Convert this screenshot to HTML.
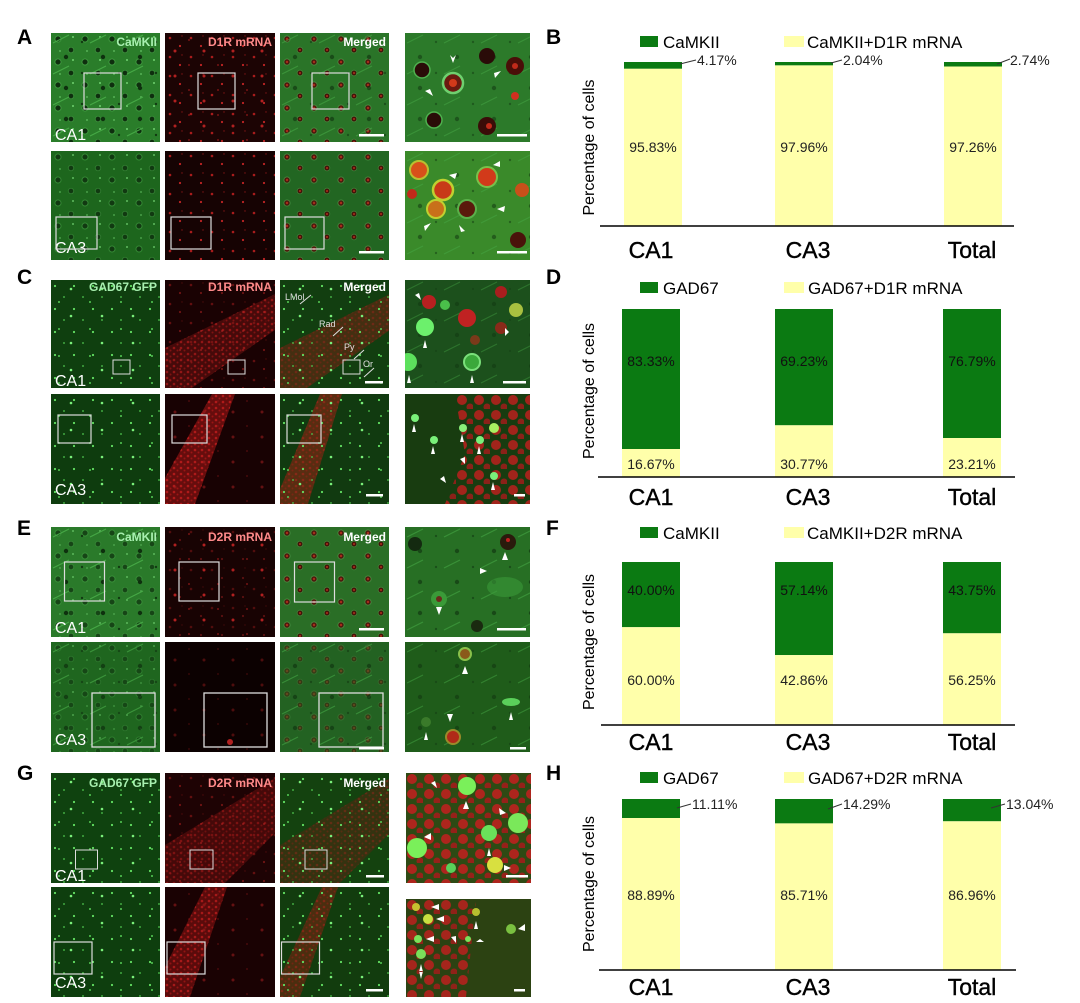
<!DOCTYPE html>
<html><head><meta charset="utf-8"><style>
html,body{margin:0;padding:0;background:#fff;}
svg{display:block;font-family:"Liberation Sans",Arial,sans-serif;}
</style></head><body>
<svg width="1080" height="1003" viewBox="0 0 1080 1003" xmlns="http://www.w3.org/2000/svg">
<defs>
<pattern id="camk" patternUnits="userSpaceOnUse" width="27" height="23">
<circle cx="7" cy="6" r="3" fill="#0e2e0e" stroke="#4fb84f" stroke-width="1" stroke-opacity=".6"/>
<circle cx="20" cy="17" r="2.7" fill="#0e2e0e" stroke="#4aa84a" stroke-width="0.9" stroke-opacity=".55"/>
<circle cx="22" cy="4" r="1" fill="#6fd06f"/>
<circle cx="9" cy="18" r="0.9" fill="#62c062"/>
</pattern>
<pattern id="camkb" patternUnits="userSpaceOnUse" width="37" height="31">
<circle cx="15" cy="24" r="2.2" fill="#0e300e"/>
<path d="M2 10 L18 2" stroke="#45a845" stroke-width="1"/>
<circle cx="31" cy="9" r="1.2" fill="#123a12"/>
</pattern>
<pattern id="mrg" patternUnits="userSpaceOnUse" width="27" height="23">
<circle cx="7" cy="6" r="3.1" fill="#4a1a0c" stroke="#5a5" stroke-width="0.9" stroke-opacity=".6"/>
<circle cx="7" cy="6" r="1.2" fill="#a82a1a"/>
<circle cx="20" cy="17" r="2.8" fill="#401408" stroke="#5a5" stroke-width="0.8" stroke-opacity=".5"/>
<circle cx="20" cy="17" r="1.1" fill="#a02818"/>
</pattern>
<pattern id="rdots" patternUnits="userSpaceOnUse" width="21" height="19">
<circle cx="5" cy="5" r="1.3" fill="#a81c1c"/>
<circle cx="15" cy="13" r="1.1" fill="#c02424"/>
<circle cx="17" cy="3" r="0.7" fill="#801414"/>
</pattern>
<pattern id="rdots2" patternUnits="userSpaceOnUse" width="29" height="25">
<circle cx="10" cy="18" r="1.5" fill="#b02020"/>
<circle cx="24" cy="7" r="0.9" fill="#901818"/>
</pattern>
<pattern id="gdots" patternUnits="userSpaceOnUse" width="19" height="23">
<circle cx="4" cy="6" r="1.1" fill="#62e062"/>
<circle cx="13" cy="17" r="0.9" fill="#50c850"/>
</pattern>
<pattern id="gdots2" patternUnits="userSpaceOnUse" width="31" height="27">
<circle cx="20" cy="9" r="1.3" fill="#7af07a"/>
<circle cx="8" cy="22" r="1" fill="#5c5"/>
</pattern>
<pattern id="rdense" patternUnits="userSpaceOnUse" width="7" height="6">
<circle cx="2" cy="2" r="1.3" fill="#d02020"/>
<circle cx="5.5" cy="4.5" r="1" fill="#b01818"/>
</pattern>
<pattern id="redblobs" patternUnits="userSpaceOnUse" width="17" height="15">
<circle cx="6" cy="6" r="5" fill="#c41e1e"/>
<circle cx="14" cy="13" r="3.5" fill="#a81a1a"/>
</pattern>
</defs>

<!-- ============ PANEL A ============ -->
<text x="17" y="44" font-size="21" font-weight="bold" fill="#000">A</text>
<svg x="51" y="33" width="109" height="109"><rect width="100%" height="100%" fill="#2a7d2a"/><rect width="100%" height="100%" fill="url(#camk)"/><rect width="100%" height="100%" fill="url(#camkb)"/>
<text x="106" y="13" text-anchor="end" font-size="12" font-weight="bold" fill="#a8f0b0">CaMKII</text>
<text x="4" y="107" font-size="16" fill="#fff">CA1</text>
<rect x="33" y="40" width="37" height="36" fill="none" stroke="#ddd" stroke-width="1.2"/></svg>
<svg x="165" y="33" width="110" height="109"><rect width="100%" height="100%" fill="#1c0404"/><rect width="100%" height="100%" fill="url(#rdots)"/><rect width="100%" height="100%" fill="url(#rdots2)"/>
<text x="107" y="13" text-anchor="end" font-size="12" font-weight="bold" fill="#ff8a8a">D1R mRNA</text>
<rect x="33" y="40" width="37" height="36" fill="none" stroke="#ddd" stroke-width="1.2"/></svg>
<svg x="280" y="33" width="109" height="109"><rect width="100%" height="100%" fill="#2a7428"/><rect width="100%" height="100%" fill="url(#mrg)"/><rect width="100%" height="100%" fill="url(#camkb)" opacity=".6"/>
<text x="106" y="13" text-anchor="end" font-size="12" font-weight="bold" fill="#fff">Merged</text>
<rect x="32" y="40" width="37" height="36" fill="none" stroke="#ddd" stroke-width="1.2"/>
<rect x="79" y="101" width="25" height="2.5" fill="#fff"/></svg>
<svg x="405" y="33" width="125" height="109"><rect width="100%" height="100%" fill="#2c7a2a"/><rect width="100%" height="100%" fill="url(#camkb)" opacity=".5"/>
<circle cx="17" cy="37" r="8" fill="#2a0c08" stroke="#4fb04f" stroke-width="1.5"/>
<circle cx="48" cy="50" r="10" fill="#6a1a10" stroke="#6fd06f" stroke-width="2.5"/><circle cx="48" cy="50" r="4" fill="#d23a1a"/>
<circle cx="29" cy="87" r="8" fill="#2a0c08" stroke="#4fb04f" stroke-width="1.5"/>
<circle cx="82" cy="23" r="8" fill="#2a0c08"/>
<circle cx="110" cy="33" r="9" fill="#4a0e08"/><circle cx="110" cy="33" r="3" fill="#c02a1a"/>
<circle cx="82" cy="93" r="9" fill="#3a0c08"/><circle cx="84" cy="93" r="3" fill="#c02a1a"/>
<circle cx="110" cy="63" r="4" fill="#d03020"/>
<path d="M45 22 l3 8 l3 -8 l-3 3z M20 58 l8 5 l-3 -7z M90 45 l6 -7 l-7 2z" fill="#fff"/>
<rect x="92" y="101" width="30" height="2.5" fill="#fff"/></svg>

<svg x="51" y="151" width="109" height="109"><rect width="100%" height="100%" fill="#1d661d"/><rect width="100%" height="100%" fill="url(#camk)" opacity=".8"/>
<text x="4" y="102" font-size="16" fill="#fff">CA3</text>
<rect x="5" y="66" width="41" height="32" fill="none" stroke="#ddd" stroke-width="1.2"/></svg>
<svg x="165" y="151" width="110" height="109"><rect width="100%" height="100%" fill="#160303"/><rect width="100%" height="100%" fill="url(#rdots)"/>
<rect x="6" y="66" width="40" height="32" fill="none" stroke="#ddd" stroke-width="1.2"/></svg>
<svg x="280" y="151" width="109" height="109"><rect width="100%" height="100%" fill="#226622"/><rect width="100%" height="100%" fill="url(#mrg)"/>
<rect x="5" y="66" width="39" height="32" fill="none" stroke="#ddd" stroke-width="1.2"/>
<rect x="79" y="100" width="25" height="2.5" fill="#fff"/></svg>
<svg x="405" y="151" width="125" height="109"><rect width="100%" height="100%" fill="#3a8a2a"/><rect width="100%" height="100%" fill="url(#camkb)" opacity=".5"/>
<circle cx="14" cy="19" r="9" fill="#d8501a" stroke="#b8c030" stroke-width="2"/>
<circle cx="38" cy="39" r="10" fill="#c83a18" stroke="#c0d030" stroke-width="2.5"/>
<circle cx="82" cy="26" r="10" fill="#d23a1a" stroke="#7ac04a" stroke-width="2"/>
<circle cx="31" cy="58" r="9" fill="#c8701a" stroke="#c0d030" stroke-width="2"/>
<circle cx="62" cy="58" r="9" fill="#5a1a0c" stroke="#5ab04a" stroke-width="2"/>
<circle cx="117" cy="39" r="7" fill="#c8501a"/>
<circle cx="113" cy="89" r="8" fill="#4a120a"/>
<circle cx="7" cy="43" r="5" fill="#c02a1a"/>
<path d="M52 22 l-8 2 l6 4z M95 10 l-7 4 l7 2z M20 80 l6 -8 l-7 3z M60 80 l-6 -6 l2 7z M100 55 l-8 3 l7 3z" fill="#fff"/>
<rect x="92" y="100" width="30" height="2.5" fill="#fff"/></svg>

<!-- ============ PANEL C ============ -->
<text x="17" y="284" font-size="21" font-weight="bold" fill="#000">C</text>
<svg x="51" y="280" width="109" height="108"><rect width="100%" height="100%" fill="#0f3f0f"/><rect width="100%" height="100%" fill="url(#gdots)"/><rect width="100%" height="100%" fill="url(#gdots2)"/>
<text x="106" y="11" text-anchor="end" font-size="12" font-weight="bold" fill="#a8f0b0">GAD67 GFP</text>
<text x="4" y="106" font-size="16" fill="#fff">CA1</text>
<rect x="62" y="80" width="17" height="14" fill="none" stroke="#ddd" stroke-width="1"/></svg>
<svg x="165" y="280" width="110" height="108"><rect width="100%" height="100%" fill="#1a0203"/>
<polygon points="0,68 106,16 110,14 110,50 27,108 0,108" fill="#5a0e0e" opacity=".7"/>
<polygon points="0,68 106,16 110,14 110,50 27,108 0,108" fill="url(#rdense)" opacity=".55"/>
<rect width="100%" height="100%" fill="url(#rdots)" opacity=".5"/>
<text x="107" y="11" text-anchor="end" font-size="12" font-weight="bold" fill="#ff8a8a">D1R mRNA</text>
<rect x="63" y="80" width="17" height="14" fill="none" stroke="#ddd" stroke-width="1"/></svg>
<svg x="280" y="280" width="109" height="108"><rect width="100%" height="100%" fill="#123e10"/>
<polygon points="0,68 106,16 110,14 110,50 27,108 0,108" fill="#5a2a12" opacity=".7"/>
<polygon points="0,68 106,16 110,14 110,50 27,108 0,108" fill="url(#rdense)" opacity=".3"/>
<rect width="100%" height="100%" fill="url(#gdots)"/><rect width="100%" height="100%" fill="url(#gdots2)"/>
<text x="106" y="11" text-anchor="end" font-size="12" font-weight="bold" fill="#fff">Merged</text>
<text x="5" y="20" font-size="9" fill="#e0e0e0">LMol</text>
<line x1="20" y1="24" x2="31" y2="15" stroke="#e0e0e0" stroke-width="1"/>
<text x="39" y="47" font-size="9" fill="#e0e0e0">Rad</text>
<line x1="53" y1="56" x2="63" y2="47" stroke="#e0e0e0" stroke-width="1"/>
<text x="64" y="70" font-size="9" fill="#e0e0e0">Py</text>
<line x1="74" y1="79" x2="84" y2="70" stroke="#e0e0e0" stroke-width="1"/>
<text x="83" y="87" font-size="9" fill="#e0e0e0">Or</text>
<line x1="84" y1="97" x2="94" y2="88" stroke="#e0e0e0" stroke-width="1"/>
<rect x="63" y="80" width="17" height="14" fill="none" stroke="#ddd" stroke-width="1"/>
<rect x="85" y="101" width="18" height="2.5" fill="#fff"/></svg>
<svg x="405" y="280" width="125" height="108"><rect width="100%" height="100%" fill="#1c501c"/><rect width="100%" height="100%" fill="url(#camkb)" opacity=".4"/>
<circle cx="24" cy="22" r="7" fill="#b82020"/>
<circle cx="62" cy="38" r="9" fill="#c02222"/>
<circle cx="96" cy="12" r="6" fill="#a81e1e"/>
<circle cx="96" cy="48" r="6" fill="#8a2a1a"/>
<circle cx="70" cy="60" r="5" fill="#7a3a1a"/>
<circle cx="20" cy="47" r="9" fill="#6cf06c"/>
<circle cx="3" cy="82" r="9" fill="#5ce05c"/>
<circle cx="67" cy="82" r="8" fill="#3aa83a" stroke="#7ae07a" stroke-width="2"/>
<circle cx="111" cy="30" r="7" fill="#a8c040"/>
<circle cx="40" cy="25" r="5" fill="#4ac04a"/>
<path d="M20 60 l-2 8 l4 0z M67 95 l-2 8 l4 0z M4 95 l-2 8 l4 0z M100 48 l0 8 l4 -4z M10 15 l6 5 l-2 -7z" fill="#fff"/>
<rect x="98" y="101" width="23" height="2.5" fill="#fff"/></svg>

<svg x="51" y="394" width="109" height="110"><rect width="100%" height="100%" fill="#0e3c0e"/><rect width="100%" height="100%" fill="url(#gdots)"/><rect width="100%" height="100%" fill="url(#gdots2)"/>
<text x="4" y="101" font-size="16" fill="#fff">CA3</text>
<rect x="7" y="21" width="33" height="28" fill="none" stroke="#ddd" stroke-width="1.2"/></svg>
<svg x="165" y="394" width="110" height="110"><rect width="100%" height="100%" fill="#180203"/>
<polygon points="47,0 70,0 30,110 0,110 0,84" fill="#7a1010" opacity=".8"/>
<polygon points="47,0 70,0 30,110 0,110 0,84" fill="url(#rdense)" opacity=".7"/>
<rect width="100%" height="100%" fill="url(#rdots2)" opacity=".5"/>
<rect x="7" y="21" width="35" height="28" fill="none" stroke="#ddd" stroke-width="1.2"/></svg>
<svg x="280" y="394" width="109" height="110"><rect width="100%" height="100%" fill="#113a10"/>
<polygon points="40,0 62,0 28,110 0,110 0,95" fill="#6a2a12" opacity=".8"/>
<polygon points="40,0 62,0 28,110 0,110 0,95" fill="url(#rdense)" opacity=".4"/>
<rect width="100%" height="100%" fill="url(#gdots)"/><rect width="100%" height="100%" fill="url(#gdots2)"/>
<rect x="7" y="21" width="34" height="28" fill="none" stroke="#ddd" stroke-width="1.2"/>
<rect x="86" y="100" width="17" height="2.5" fill="#fff"/></svg>
<svg x="405" y="394" width="125" height="110"><rect width="100%" height="100%" fill="#183c10"/>
<polygon points="50,0 125,0 125,110 40,110 60,60" fill="url(#redblobs)" opacity=".8"/>
<circle cx="10" cy="24" r="4" fill="#7af07a"/>
<circle cx="29" cy="46" r="4" fill="#7af07a"/>
<circle cx="58" cy="34" r="4" fill="#8af07a"/>
<circle cx="75" cy="46" r="4" fill="#7af07a"/>
<circle cx="89" cy="34" r="5" fill="#a8f060"/>
<circle cx="89" cy="82" r="4" fill="#7af07a"/>
<path d="M9 30 l-2 8 l4 0z M28 52 l-2 8 l4 0z M57 40 l-2 8 l4 0z M74 52 l-2 8 l4 0z M88 88 l-2 8 l4 0z M55 65 l5 5 l0 -7z M35 85 l6 4 l-2 -7z" fill="#fff"/>
<rect x="109" y="100" width="11" height="2.5" fill="#fff"/></svg>

<!-- ============ PANEL E ============ -->
<text x="17" y="535" font-size="21" font-weight="bold" fill="#000">E</text>
<svg x="51" y="527" width="109" height="110"><rect width="100%" height="100%" fill="#2a7a2a"/><rect width="100%" height="100%" fill="url(#camk)" opacity=".7"/><rect width="100%" height="100%" fill="url(#camkb)"/>
<text x="106" y="14" text-anchor="end" font-size="12" font-weight="bold" fill="#a8f0b0">CaMKII</text>
<text x="4" y="106" font-size="16" fill="#fff">CA1</text>
<rect x="13.5" y="35" width="40" height="39" fill="none" stroke="#ddd" stroke-width="1.2"/></svg>
<svg x="165" y="527" width="110" height="110"><rect width="100%" height="100%" fill="#180303"/><rect width="100%" height="100%" fill="url(#rdots2)"/><rect width="100%" height="100%" fill="url(#rdots)" opacity=".4"/>
<text x="107" y="14" text-anchor="end" font-size="12" font-weight="bold" fill="#ff8a8a">D2R mRNA</text>
<rect x="14" y="35" width="40" height="39" fill="none" stroke="#ddd" stroke-width="1.2"/></svg>
<svg x="280" y="527" width="109" height="110"><rect width="100%" height="100%" fill="#2a6e26"/><rect width="100%" height="100%" fill="url(#mrg)"/>
<text x="106" y="14" text-anchor="end" font-size="12" font-weight="bold" fill="#fff">Merged</text>
<rect x="14.5" y="35" width="40" height="40" fill="none" stroke="#ddd" stroke-width="1.2"/>
<rect x="79" y="101" width="25" height="2.5" fill="#fff"/></svg>
<svg x="405" y="527" width="125" height="110"><rect width="100%" height="100%" fill="#276f24"/><rect width="100%" height="100%" fill="url(#camkb)" opacity=".6"/>
<circle cx="10" cy="17" r="7" fill="#142a10"/>
<circle cx="103" cy="15" r="8" fill="#2a1a0c"/><circle cx="103" cy="13" r="2" fill="#c02020"/>
<circle cx="34" cy="72" r="8" fill="#3a9a38"/><circle cx="34" cy="72" r="3" fill="#6a2a1a"/>
<circle cx="72" cy="99" r="6" fill="#1a2a10"/>
<ellipse cx="100" cy="60" rx="18" ry="10" fill="#3a9a38" opacity=".6"/>
<path d="M100 25 l-3 8 l6 0z M34 88 l-3 -8 l6 0z M75 41 l7 3 l-7 3z" fill="#fff"/>
<rect x="92" y="101" width="29" height="2.5" fill="#fff"/></svg>

<svg x="51" y="642" width="109" height="110"><rect width="100%" height="100%" fill="#1f661f"/><rect width="100%" height="100%" fill="url(#camk)" opacity=".55"/><rect width="100%" height="100%" fill="url(#camkb)" opacity=".7"/>
<text x="4" y="103" font-size="16" fill="#fff">CA3</text>
<rect x="41" y="51" width="63" height="54" fill="none" stroke="#ddd" stroke-width="1.3"/></svg>
<svg x="165" y="642" width="110" height="110"><rect width="100%" height="100%" fill="#0c0101"/><rect width="100%" height="100%" fill="url(#rdots2)" opacity=".4"/>
<circle cx="65" cy="100" r="3" fill="#b02020"/>
<rect x="39" y="51" width="63" height="54" fill="none" stroke="#ddd" stroke-width="1.3"/></svg>
<svg x="280" y="642" width="109" height="110"><rect width="100%" height="100%" fill="#236222"/><rect width="100%" height="100%" fill="url(#mrg)" opacity=".5"/><rect width="100%" height="100%" fill="url(#camkb)" opacity=".6"/>
<rect x="39" y="51" width="64" height="54" fill="none" stroke="#ddd" stroke-width="1.3"/>
<rect x="79" y="105" width="25" height="2.5" fill="#fff"/></svg>
<svg x="405" y="642" width="125" height="110"><rect width="100%" height="100%" fill="#1f5c1a"/><rect width="100%" height="100%" fill="url(#camkb)" opacity=".5"/>
<circle cx="60" cy="12" r="6" fill="#8a5a1a" stroke="#8ac04a" stroke-width="2"/>
<circle cx="48" cy="95" r="7" fill="#b02a18" stroke="#9a8a2a" stroke-width="2"/>
<ellipse cx="106" cy="60" rx="9" ry="4" fill="#5ad05a"/>
<circle cx="21" cy="80" r="5" fill="#3a7a2a"/>
<path d="M60 24 l-3 8 l6 0z M45 80 l-3 -8 l6 0z M21 90 l-2 8 l4 0z M106 70 l-2 8 l4 0z" fill="#fff"/>
<rect x="105" y="105" width="16" height="2.5" fill="#fff"/></svg>

<!-- ============ PANEL G ============ -->
<text x="17" y="780" font-size="21" font-weight="bold" fill="#000">G</text>
<svg x="51" y="773" width="109" height="110"><rect width="100%" height="100%" fill="#0f420f"/><rect width="100%" height="100%" fill="url(#gdots)"/><rect width="100%" height="100%" fill="url(#gdots2)"/>
<text x="106" y="14" text-anchor="end" font-size="12" font-weight="bold" fill="#a8f0b0">GAD67 GFP</text>
<text x="4" y="108" font-size="16" fill="#fff">CA1</text>
<rect x="24.5" y="77" width="22" height="19" fill="none" stroke="#ddd" stroke-width="1"/></svg>
<svg x="165" y="773" width="110" height="110"><rect width="100%" height="100%" fill="#1e0304"/>
<polygon points="0,72 110,5 110,60 60,110 0,110" fill="#5a0c0c" opacity=".65"/>
<polygon points="0,72 110,5 110,60 60,110 0,110" fill="url(#rdense)" opacity=".4"/>
<rect width="100%" height="100%" fill="url(#rdots)" opacity=".5"/>
<text x="107" y="14" text-anchor="end" font-size="12" font-weight="bold" fill="#ff8a8a">D2R mRNA</text>
<rect x="25" y="77" width="23" height="19" fill="none" stroke="#ddd" stroke-width="1"/></svg>
<svg x="280" y="773" width="109" height="110"><rect width="100%" height="100%" fill="#14420f"/>
<polygon points="0,72 110,5 110,60 60,110 0,110" fill="#4a2a10" opacity=".6"/>
<polygon points="0,72 110,5 110,60 60,110 0,110" fill="url(#rdense)" opacity=".3"/>
<rect width="100%" height="100%" fill="url(#gdots)"/><rect width="100%" height="100%" fill="url(#gdots2)"/>
<text x="106" y="14" text-anchor="end" font-size="12" font-weight="bold" fill="#fff">Merged</text>
<rect x="25" y="77" width="22" height="19" fill="none" stroke="#ddd" stroke-width="1"/>
<rect x="86" y="102" width="18" height="2.5" fill="#fff"/></svg>
<svg x="406" y="773" width="125" height="110"><rect width="100%" height="100%" fill="#2e4a14"/>
<rect width="100%" height="100%" fill="url(#redblobs)" opacity=".85"/>
<circle cx="61" cy="13" r="9" fill="#7af05a"/>
<circle cx="11" cy="75" r="10" fill="#7af05a"/>
<circle cx="83" cy="60" r="8" fill="#6ae05a"/>
<circle cx="112" cy="50" r="10" fill="#7ae85a"/>
<circle cx="89" cy="92" r="8" fill="#d8e040"/>
<circle cx="45" cy="95" r="5" fill="#5ad05a"/>
<path d="M60 28 l-3 8 l6 0z M25 60 l-7 4 l7 3z M100 40 l-7 -5 l1 7z M83 75 l-2 8 l4 0z M105 95 l-7 -3 l0 6z M25 10 l6 5 l-2 -7z" fill="#fff"/>
<rect x="100" y="102" width="22" height="2.5" fill="#fff"/></svg>

<svg x="51" y="887" width="109" height="110"><rect width="100%" height="100%" fill="#0e3e0e"/><rect width="100%" height="100%" fill="url(#gdots)"/><rect width="100%" height="100%" fill="url(#gdots2)"/>
<text x="4" y="101" font-size="16" fill="#fff">CA3</text>
<rect x="3" y="55" width="38" height="32" fill="none" stroke="#ddd" stroke-width="1.2"/></svg>
<svg x="165" y="887" width="110" height="110"><rect width="100%" height="100%" fill="#1a0203"/>
<polygon points="40,0 62,0 25,110 0,110 0,80" fill="#6a0e0e" opacity=".8"/>
<polygon points="40,0 62,0 25,110 0,110 0,80" fill="url(#rdense)" opacity=".65"/>
<rect width="100%" height="100%" fill="url(#rdots2)" opacity=".5"/>
<rect x="2" y="55" width="38" height="32" fill="none" stroke="#ddd" stroke-width="1.2"/></svg>
<svg x="280" y="887" width="109" height="110"><rect width="100%" height="100%" fill="#123c0e"/>
<polygon points="42,0 58,0 20,110 0,110 0,90" fill="#5a2a10" opacity=".8"/>
<polygon points="42,0 58,0 20,110 0,110 0,90" fill="url(#rdense)" opacity=".4"/>
<rect width="100%" height="100%" fill="url(#gdots)"/><rect width="100%" height="100%" fill="url(#gdots2)"/>
<rect x="1.5" y="55" width="38" height="32" fill="none" stroke="#ddd" stroke-width="1.2"/>
<rect x="86" y="102" width="17" height="2.5" fill="#fff"/></svg>
<svg x="406" y="899" width="125" height="98"><rect width="100%" height="100%" fill="#2c4212"/>
<polygon points="0,0 70,0 60,98 0,98" fill="url(#redblobs)" opacity=".8"/>
<circle cx="10" cy="8" r="4" fill="#c8c030"/>
<circle cx="22" cy="20" r="5" fill="#c8e040"/>
<circle cx="12" cy="40" r="4" fill="#7ae05a"/>
<circle cx="15" cy="55" r="5" fill="#7ae05a"/>
<circle cx="70" cy="13" r="4" fill="#b8c030"/>
<circle cx="105" cy="30" r="5" fill="#7ac040"/>
<circle cx="62" cy="40" r="3" fill="#7ae05a"/>
<path d="M25 8 l8 -3 l0 6z M30 20 l8 -3 l0 6z M20 40 l8 -3 l0 6z M15 65 l-2 8 l4 0z M15 80 l-2 -8 l4 0z M70 22 l-2 8 l4 0z M112 30 l7 -5 l0 7z M45 38 l5 6 l0 -7z M70 43 l8 0 l-4 -3z" fill="#fff"/>
<rect x="108" y="90" width="11" height="2.5" fill="#fff"/></svg>

<!-- ============ CHART B ============ -->
<g fill="#000">
<text x="546" y="44" font-size="21" font-weight="bold">B</text>
<rect x="640" y="36" width="18" height="11" fill="#0b7a12"/>
<text x="663" y="48" font-size="17">CaMKII</text>
<rect x="784" y="36" width="20" height="11" fill="#ffffaa"/>
<text x="807" y="48" font-size="17">CaMKII+D1R mRNA</text>
<rect x="624" y="62" width="58" height="6.8" fill="#0b7a12"/>
<rect x="624" y="68.8" width="58" height="157.2" fill="#ffffaa"/>
<rect x="775" y="62" width="58" height="3.4" fill="#0b7a12"/>
<rect x="775" y="65.4" width="58" height="160.6" fill="#ffffaa"/>
<rect x="944" y="62" width="58" height="4.5" fill="#0b7a12"/>
<rect x="944" y="66.5" width="58" height="159.5" fill="#ffffaa"/>
<line x1="600" y1="226" x2="1014" y2="226" stroke="#000" stroke-width="1.5"/>
<line x1="680" y1="64" x2="696" y2="60" stroke="#333" stroke-width="1"/>
<text x="697" y="65" font-size="14" fill="#222">4.17%</text>
<line x1="831" y1="63" x2="842" y2="60" stroke="#333" stroke-width="1"/>
<text x="843" y="65" font-size="14" fill="#222">2.04%</text>
<line x1="997" y1="64" x2="1010" y2="59" stroke="#333" stroke-width="1"/>
<text x="1010" y="65" font-size="14" fill="#222">2.74%</text>
<text x="653" y="152" font-size="14" text-anchor="middle" fill="#222">95.83%</text>
<text x="804" y="152" font-size="14" text-anchor="middle" fill="#222">97.96%</text>
<text x="973" y="152" font-size="14" text-anchor="middle" fill="#222">97.26%</text>
<text transform="translate(594,147.5) rotate(-90)" font-size="16" text-anchor="middle">Percentage of cells</text>
<g font-size="23" text-anchor="middle" stroke="#000" stroke-width="0.4">
<text x="651" y="258">CA1</text>
<text x="808" y="258">CA3</text>
<text x="972" y="258">Total</text>
</g>
</g>

<!-- ============ CHART D ============ -->
<g fill="#000">
<text x="546" y="284" font-size="21" font-weight="bold">D</text>
<rect x="640" y="282" width="18" height="11" fill="#0b7a12"/>
<text x="663" y="294" font-size="17">GAD67</text>
<rect x="784" y="282" width="20" height="11" fill="#ffffaa"/>
<text x="808" y="294" font-size="17">GAD67+D1R mRNA</text>
<rect x="622" y="309" width="58" height="140" fill="#0b7a12"/>
<rect x="622" y="449" width="58" height="28" fill="#ffffaa"/>
<rect x="775" y="309" width="58" height="116.3" fill="#0b7a12"/>
<rect x="775" y="425.3" width="58" height="51.7" fill="#ffffaa"/>
<rect x="943" y="309" width="58" height="129" fill="#0b7a12"/>
<rect x="943" y="438" width="58" height="39" fill="#ffffaa"/>
<line x1="598" y1="477" x2="1015" y2="477" stroke="#000" stroke-width="1.5"/>
<text x="651" y="366" font-size="14" text-anchor="middle" fill="#111">83.33%</text>
<text x="804" y="366" font-size="14" text-anchor="middle" fill="#111">69.23%</text>
<text x="972" y="366" font-size="14" text-anchor="middle" fill="#111">76.79%</text>
<text x="651" y="469" font-size="14" text-anchor="middle" fill="#222">16.67%</text>
<text x="804" y="469" font-size="14" text-anchor="middle" fill="#222">30.77%</text>
<text x="972" y="469" font-size="14" text-anchor="middle" fill="#222">23.21%</text>
<text transform="translate(594,391) rotate(-90)" font-size="16" text-anchor="middle">Percentage of cells</text>
<g font-size="23" text-anchor="middle" stroke="#000" stroke-width="0.4">
<text x="651" y="505">CA1</text>
<text x="808" y="505">CA3</text>
<text x="972" y="505">Total</text>
</g>
</g>

<!-- ============ CHART F ============ -->
<g fill="#000">
<text x="546" y="535" font-size="21" font-weight="bold">F</text>
<rect x="640" y="527" width="18" height="11" fill="#0b7a12"/>
<text x="663" y="539" font-size="17">CaMKII</text>
<rect x="784" y="527" width="20" height="11" fill="#ffffaa"/>
<text x="807" y="539" font-size="17">CaMKII+D2R mRNA</text>
<rect x="622" y="562" width="58" height="65.2" fill="#0b7a12"/>
<rect x="622" y="627.2" width="58" height="97.8" fill="#ffffaa"/>
<rect x="775" y="562" width="58" height="93.1" fill="#0b7a12"/>
<rect x="775" y="655.1" width="58" height="69.9" fill="#ffffaa"/>
<rect x="943" y="562" width="58" height="71.3" fill="#0b7a12"/>
<rect x="943" y="633.3" width="58" height="91.7" fill="#ffffaa"/>
<line x1="601" y1="725" x2="1015" y2="725" stroke="#000" stroke-width="1.5"/>
<text x="651" y="595" font-size="14" text-anchor="middle" fill="#111">40.00%</text>
<text x="804" y="595" font-size="14" text-anchor="middle" fill="#111">57.14%</text>
<text x="972" y="595" font-size="14" text-anchor="middle" fill="#111">43.75%</text>
<text x="651" y="685" font-size="14" text-anchor="middle" fill="#222">60.00%</text>
<text x="804" y="685" font-size="14" text-anchor="middle" fill="#222">42.86%</text>
<text x="972" y="685" font-size="14" text-anchor="middle" fill="#222">56.25%</text>
<text transform="translate(594,642) rotate(-90)" font-size="16" text-anchor="middle">Percentage of cells</text>
<g font-size="23" text-anchor="middle" stroke="#000" stroke-width="0.4">
<text x="651" y="750">CA1</text>
<text x="808" y="750">CA3</text>
<text x="972" y="750">Total</text>
</g>
</g>

<!-- ============ CHART H ============ -->
<g fill="#000">
<text x="546" y="780" font-size="21" font-weight="bold">H</text>
<rect x="640" y="772" width="18" height="11" fill="#0b7a12"/>
<text x="663" y="784" font-size="17">GAD67</text>
<rect x="784" y="772" width="20" height="11" fill="#ffffaa"/>
<text x="808" y="784" font-size="17">GAD67+D2R mRNA</text>
<rect x="622" y="799" width="58" height="19" fill="#0b7a12"/>
<rect x="622" y="818" width="58" height="152" fill="#ffffaa"/>
<rect x="775" y="799" width="58" height="24.4" fill="#0b7a12"/>
<rect x="775" y="823.4" width="58" height="146.6" fill="#ffffaa"/>
<rect x="943" y="799" width="58" height="22.3" fill="#0b7a12"/>
<rect x="943" y="821.3" width="58" height="148.7" fill="#ffffaa"/>
<line x1="599" y1="970" x2="1016" y2="970" stroke="#000" stroke-width="1.5"/>
<line x1="677" y1="808" x2="691" y2="804" stroke="#333" stroke-width="1"/>
<text x="692" y="809" font-size="14" fill="#222">11.11%</text>
<line x1="828" y1="809" x2="842" y2="804" stroke="#333" stroke-width="1"/>
<text x="843" y="809" font-size="14" fill="#222">14.29%</text>
<line x1="991" y1="808" x2="1005" y2="804" stroke="#333" stroke-width="1"/>
<text x="1006" y="809" font-size="14" fill="#222">13.04%</text>
<text x="651" y="900" font-size="14" text-anchor="middle" fill="#222">88.89%</text>
<text x="804" y="900" font-size="14" text-anchor="middle" fill="#222">85.71%</text>
<text x="972" y="900" font-size="14" text-anchor="middle" fill="#222">86.96%</text>
<text transform="translate(594,884) rotate(-90)" font-size="16" text-anchor="middle">Percentage of cells</text>
<g font-size="23" text-anchor="middle" stroke="#000" stroke-width="0.4">
<text x="651" y="995">CA1</text>
<text x="808" y="995">CA3</text>
<text x="972" y="995">Total</text>
</g>
</g>
</svg>
</body></html>
